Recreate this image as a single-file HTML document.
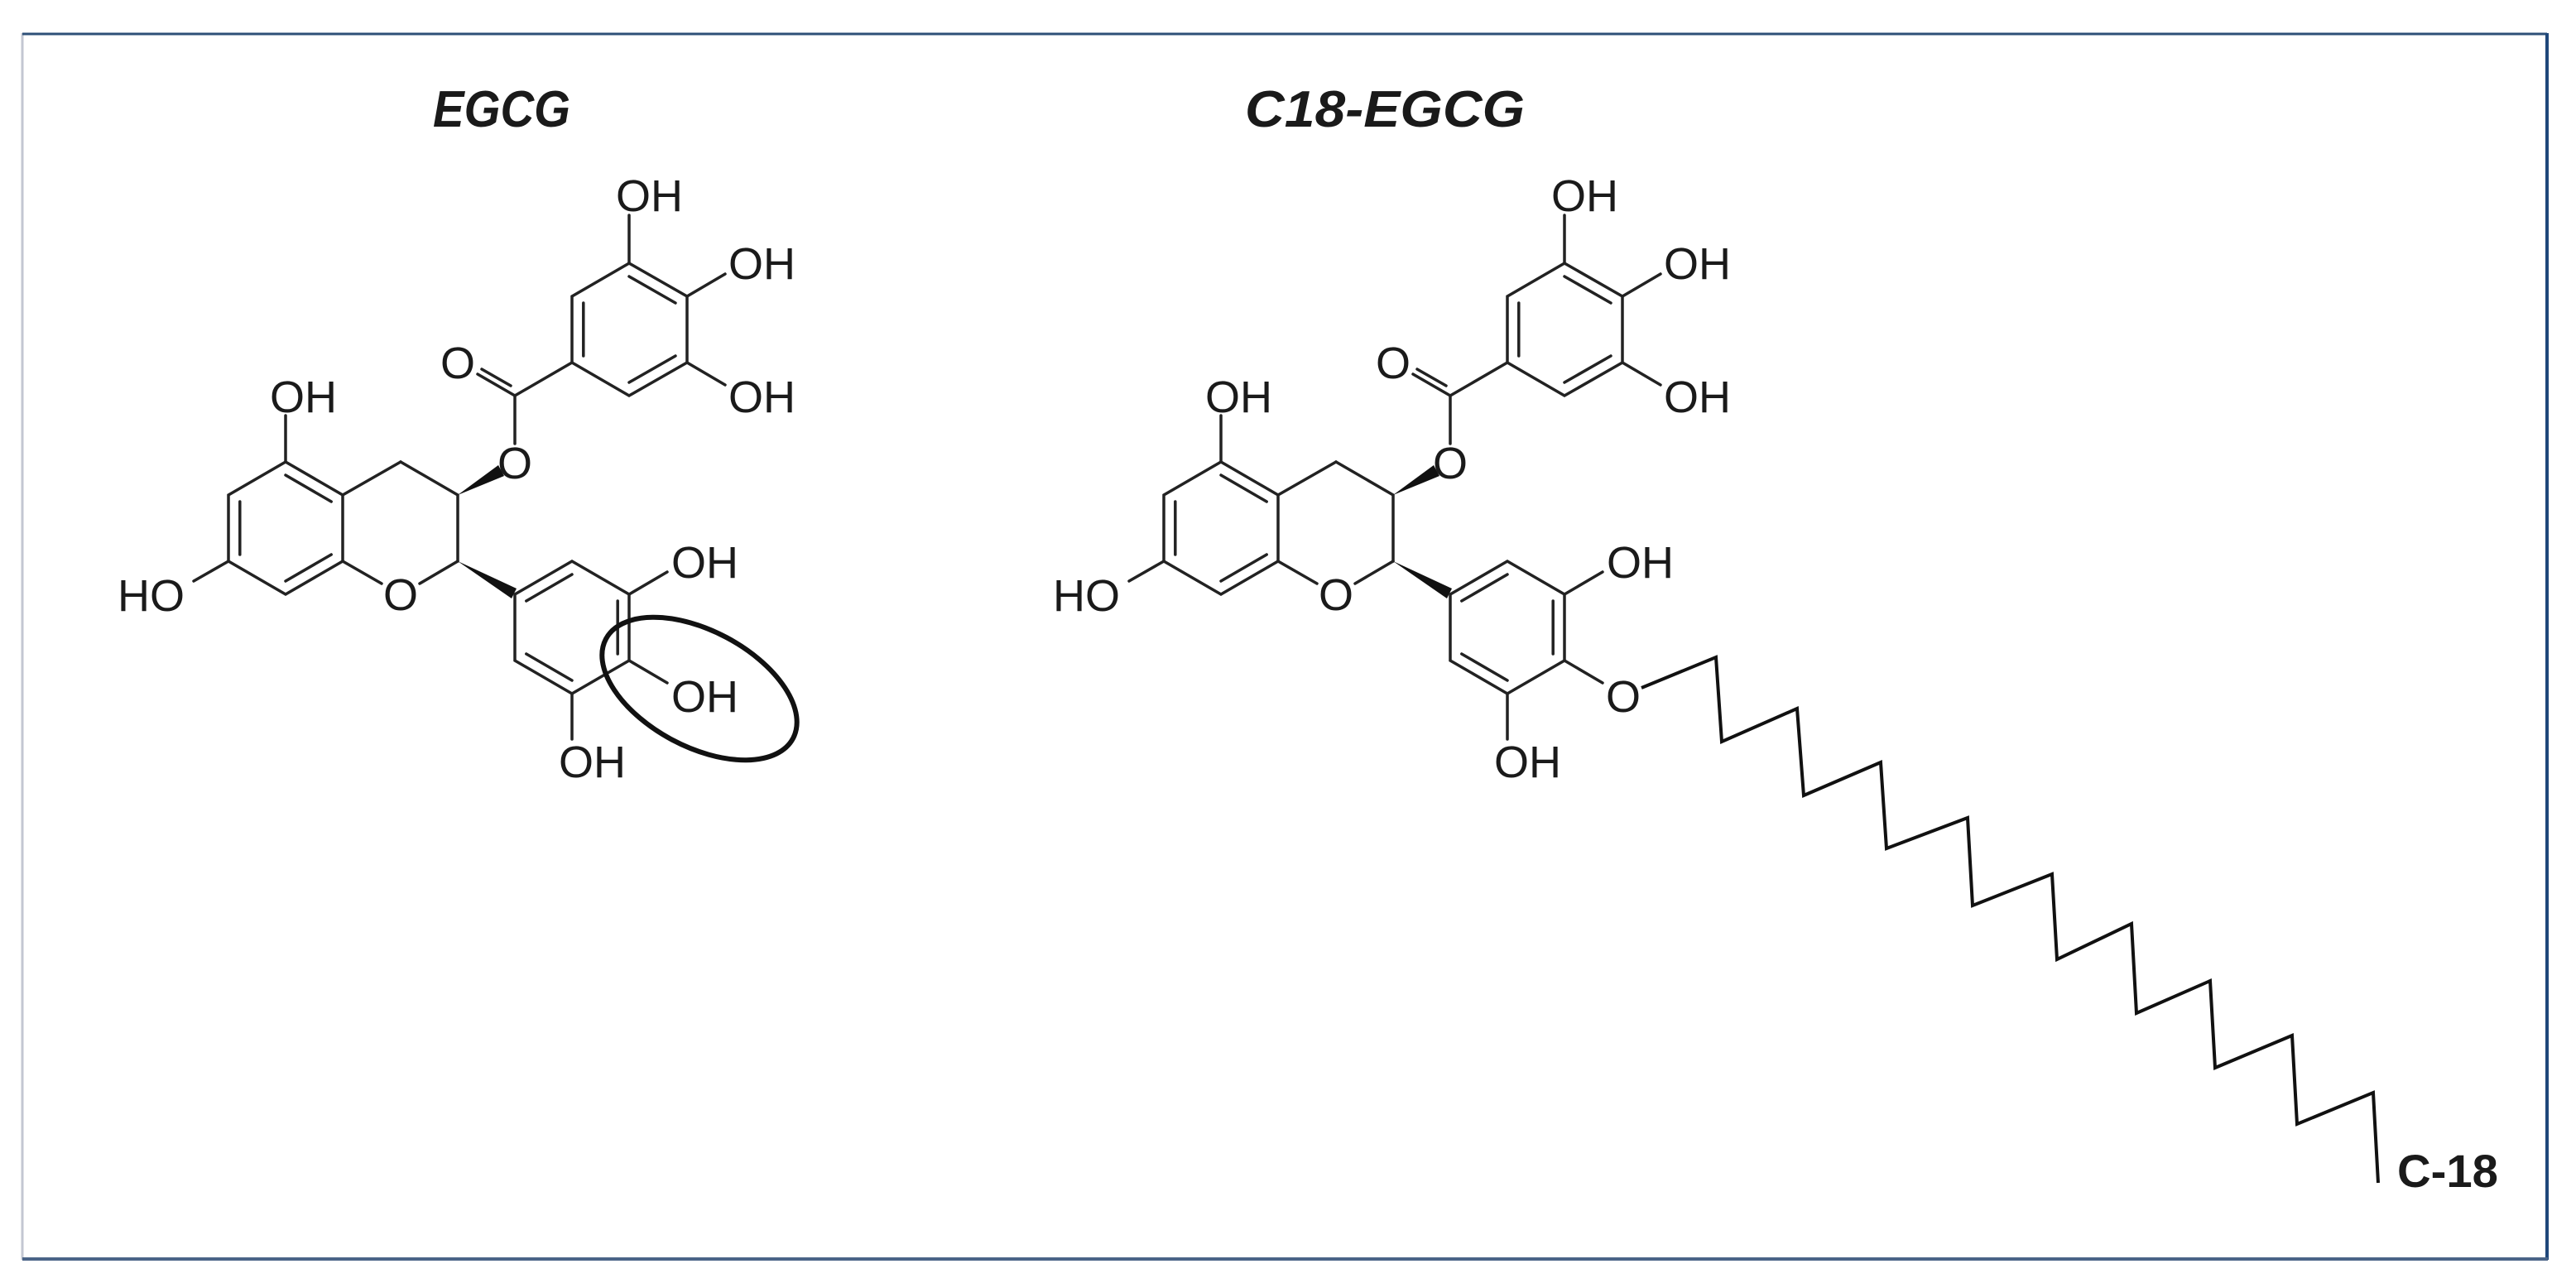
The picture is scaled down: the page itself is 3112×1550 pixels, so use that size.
<!DOCTYPE html>
<html><head><meta charset="utf-8"><style>
html,body{margin:0;padding:0;background:#fff}
svg{display:block}
text{font-family:"Liberation Sans",sans-serif;fill:#1a1a1a}
.a{font-size:54px}
</style></head><body>
<svg width="3112" height="1550" viewBox="0 0 3112 1550" xmlns="http://www.w3.org/2000/svg">
<line x1="27" y1="40" x2="27" y2="1522" stroke="#c3c7d2" stroke-width="3"/>
<line x1="27" y1="41" x2="3077" y2="41" stroke="#2e5078" stroke-width="3"/>
<line x1="3077" y1="40" x2="3077" y2="1522" stroke="#1f477a" stroke-width="4"/>
<line x1="27" y1="1521" x2="3078" y2="1521" stroke="#4a6487" stroke-width="4"/>

<text x="523" y="153" font-size="62" font-weight="bold" font-style="italic" textLength="166" lengthAdjust="spacingAndGlyphs">EGCG</text>
<text x="1504" y="153" font-size="62" font-weight="bold" font-style="italic" textLength="338" lengthAdjust="spacingAndGlyphs">C18-EGCG</text>

<defs>
<g id="core" stroke="#222" stroke-width="3.5" fill="none" stroke-linecap="round">
  <!-- A ring -->
  <polyline points="484,558 414,598 345,558 276,598 276,678 345,718 414,678 414,598"/>
  <line x1="414" y1="678" x2="461" y2="705"/>
  <line x1="507" y1="705" x2="553" y2="678"/>
  <polyline points="553,678 553,598 484,558"/>
  <g transform="translate(345,638) scale(0.8) translate(-345,-638)">
    <line x1="414" y1="598" x2="345" y2="558" vector-effect="non-scaling-stroke"/>
    <line x1="276" y1="598" x2="276" y2="678" vector-effect="non-scaling-stroke"/>
    <line x1="345" y1="718" x2="414" y2="678" vector-effect="non-scaling-stroke"/>
  </g>
  <line x1="345" y1="558" x2="345" y2="502"/>
  <line x1="276" y1="678" x2="234" y2="702"/>
  <!-- ester -->
  <polygon points="553,598 609,575 602,562" fill="#111" stroke="none"/>
  <line x1="622" y1="536" x2="622" y2="478"/>
  <line x1="622" y1="478" x2="577" y2="452"/>
  <line x1="617" y1="466" x2="582" y2="446"/>
  <line x1="622" y1="478" x2="691" y2="438"/>
  <!-- gallate -->
  <polygon points="691,438 691,358 760,318 830,358 830,438 760,478"/>
  <g transform="translate(760,398) scale(0.8) translate(-760,-398)">
    <line x1="691" y1="438" x2="691" y2="358" vector-effect="non-scaling-stroke"/>
    <line x1="760" y1="318" x2="830" y2="358" vector-effect="non-scaling-stroke"/>
    <line x1="830" y1="438" x2="760" y2="478" vector-effect="non-scaling-stroke"/>
  </g>
  <line x1="760" y1="318" x2="760" y2="260"/>
  <line x1="830" y1="358" x2="876" y2="331"/>
  <line x1="830" y1="438" x2="876" y2="465"/>
  <!-- B ring -->
  <polygon points="553,678 624,711 618,723" fill="#111" stroke="none"/>
  <polygon points="622,718 691,678 760,718 760,798 691,838 622,798"/>
  <g transform="translate(691,758) scale(0.8) translate(-691,-758)">
    <line x1="622" y1="718" x2="691" y2="678" vector-effect="non-scaling-stroke"/>
    <line x1="760" y1="718" x2="760" y2="798" vector-effect="non-scaling-stroke"/>
    <line x1="691" y1="838" x2="622" y2="798" vector-effect="non-scaling-stroke"/>
  </g>
  <line x1="760" y1="718" x2="806" y2="691"/>
  <line x1="760" y1="798" x2="806" y2="825"/>
  <line x1="691" y1="838" x2="691" y2="893"/>
</g>
</defs>

<!-- EGCG -->
<use href="#core"/>
<g class="a">
<text x="326" y="498">OH</text>
<text x="223" y="738" text-anchor="end">HO</text>
<text x="484" y="737" text-anchor="middle">O</text>
<text x="622" y="578" text-anchor="middle">O</text>
<text x="553" y="457" text-anchor="middle">O</text>
<text x="744" y="255">OH</text>
<text x="880" y="337">OH</text>
<text x="880" y="498">OH</text>
<text x="811" y="698">OH</text>
<text x="811" y="860">OH</text>
<text x="675" y="939">OH</text>
</g>
<ellipse cx="845" cy="832" rx="128" ry="70" transform="rotate(28 845 832)" fill="none" stroke="#111" stroke-width="6"/>

<!-- C18-EGCG -->
<g transform="translate(1130,0)">
<use href="#core"/>
<g class="a">
<text x="326" y="498">OH</text>
<text x="223" y="738" text-anchor="end">HO</text>
<text x="484" y="737" text-anchor="middle">O</text>
<text x="622" y="578" text-anchor="middle">O</text>
<text x="553" y="457" text-anchor="middle">O</text>
<text x="744" y="255">OH</text>
<text x="880" y="337">OH</text>
<text x="880" y="498">OH</text>
<text x="811" y="698">OH</text>
<text x="831" y="860" text-anchor="middle">O</text>
<text x="675" y="939">OH</text>
</g>
</g>
<polyline fill="none" stroke="#111" stroke-width="4" stroke-linejoin="miter"
 points="1983,831 2073,794 2080,896 2171,856 2179,961 2272,921 2279,1025 2377,988 2383,1094 2479,1056 2485,1159 2575,1116 2581,1224 2670,1185 2676,1290 2769,1251 2775,1358 2867,1320 2873,1429"/>
<text x="2896" y="1434" font-size="56" font-weight="bold" textLength="122" lengthAdjust="spacingAndGlyphs">C-18</text>
</svg>
</body></html>
